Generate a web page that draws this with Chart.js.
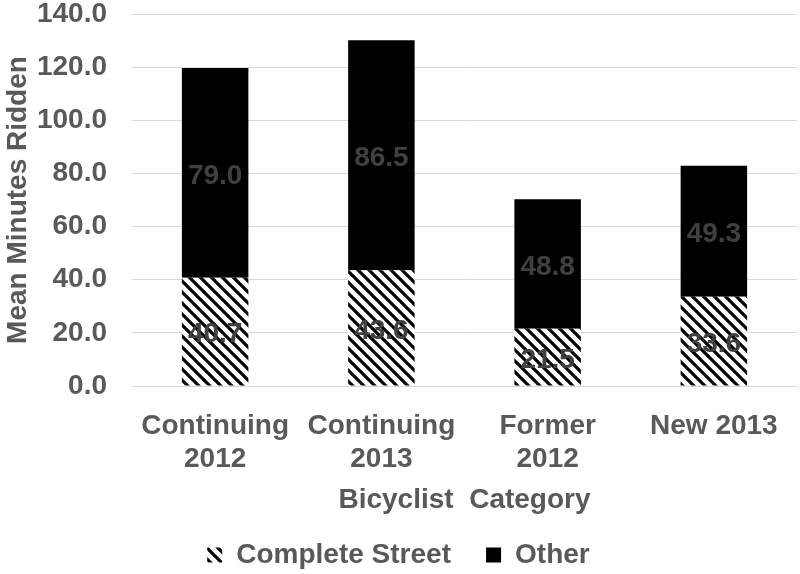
<!DOCTYPE html>
<html>
<head>
<meta charset="utf-8">
<script src="https://cdn.jsdelivr.net/npm/chart.js@4.4.1/dist/chart.umd.min.js"></script>
<style>
  html, body { margin: 0; padding: 0; background: #fff; }
  #wrap { width: 800px; height: 574px; }
</style>
</head>
<body>
<div id="wrap"><canvas id="myChart" width="800" height="574"></canvas></div>
<script>
var categories = [['Continuing', '2012'], ['Continuing', '2013'], ['Former', '2012'], ['New 2013']];
var completeStreet = [40.7, 43.6, 21.5, 33.6];
var other = [79.0, 86.5, 48.8, 49.3];
var yTicks = [0, 20, 40, 60, 80, 100, 120, 140];

function makeStripes() {
    var s = 11;
    var c = document.createElement('canvas');
    c.width = s; c.height = s;
    var g = c.getContext('2d');
    g.fillStyle = '#fff';
    g.fillRect(0, 0, s, s);
    g.strokeStyle = '#000';
    g.lineWidth = 3.2;
    g.beginPath();
    g.moveTo(-2, -2); g.lineTo(s + 2, s + 2);
    g.moveTo(-2 - s, -2); g.lineTo(2, s + 2);
    g.moveTo(s - 2, -2); g.lineTo(2 * s + 2, s + 2);
    g.stroke();
    return g.createPattern(c, 'repeat');
}

var barLabels = {
    id: 'barLabels',
    afterDatasetsDraw: function (chart) {
        var ctx = chart.ctx;
        ctx.save();
        ctx.font = 'bold 28px "Liberation Sans", Arial, sans-serif';
        ctx.fillStyle = '#404040';
        ctx.textAlign = 'center';
        ctx.textBaseline = 'middle';
        chart.data.datasets.forEach(function (ds, i) {
            chart.getDatasetMeta(i).data.forEach(function (bar, j) {
                var mid = (bar.y + bar.base) / 2;
                ctx.fillText(ds.data[j].toFixed(1), bar.x, mid + 3);
            });
        });
        ctx.restore();
    }
};

document.addEventListener('DOMContentLoaded', function () {
    var ctx = document.getElementById('myChart').getContext('2d');
    var stripes = makeStripes();
    var font = { family: '"Liberation Sans", Arial, sans-serif', size: 28, weight: 'bold', lineHeight: 1.18 };
    new Chart(ctx, {
        type: 'bar',
        data: {
            labels: categories,
            datasets: [
                { label: 'Complete Street', data: completeStreet, backgroundColor: stripes, borderWidth: 0 },
                { label: 'Other', data: other, backgroundColor: '#000000', borderWidth: 0 }
            ]
        },
        options: {
            responsive: false,
            animation: false,
            layout: { padding: { top: 14, right: 3, left: 0, bottom: -5 } },
            datasets: { bar: { categoryPercentage: 1.0, barPercentage: 0.4 } },
            plugins: {
                legend: {
                    position: 'bottom',
                    labels: {
                        color: '#595959',
                        font: font,
                        boxWidth: 15,
                        boxHeight: 15,
                        padding: 4,
                        generateLabels: function (chart) {
                            var items = Chart.defaults.plugins.legend.labels.generateLabels(chart);
                            items[0].text = items[0].text + '    ';
                            return items;
                        }
                    }
                },
                tooltip: { enabled: false }
            },
            scales: {
                x: {
                    stacked: true,
                    grid: { display: false, drawTicks: false },
                    border: { display: false },
                    ticks: { color: '#595959', font: font, padding: 24, maxRotation: 0 },
                    title: { display: true, text: 'Bicyclist  Category', color: '#595959', font: font, padding: { top: 0, bottom: 20 } },
                    afterFit: function (axis) {
                        axis.height = 151;
                        axis.paddingLeft = 0;
                        axis.paddingRight = 0;
                    }
                },
                y: {
                    stacked: true,
                    min: 0,
                    max: 140,
                    afterBuildTicks: function (axis) {
                        axis.ticks = yTicks.map(function (v) { return { value: v }; });
                    },
                    grid: { color: '#d9d9d9', lineWidth: 1, drawTicks: false },
                    border: { display: false },
                    ticks: {
                        color: '#595959',
                        font: font,
                        padding: 25,
                        callback: function (v) { return Number(v).toFixed(1); }
                    },
                    title: { display: true, text: 'Mean Minutes Ridden', color: '#595959', font: font, padding: { top: 2, bottom: 0 } },
                    afterFit: function (axis) {
                        axis.width = 132;
                        axis.paddingTop = 0;
                        axis.paddingBottom = 0;
                    }
                }
            }
        },
        plugins: [barLabels]
    });
});
</script>
</body>
</html>
